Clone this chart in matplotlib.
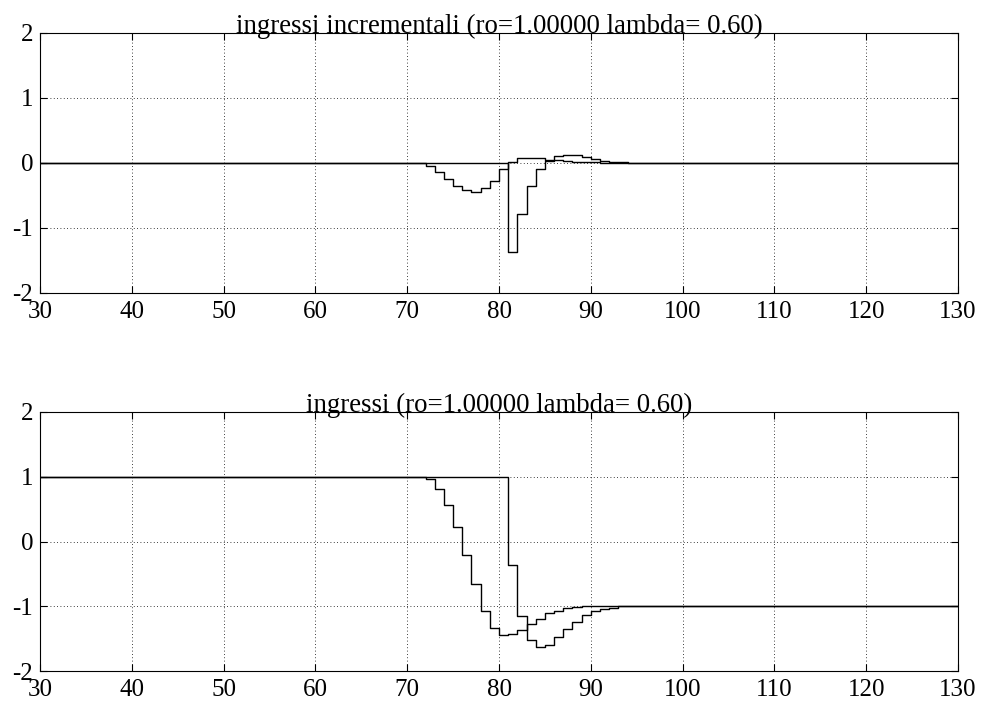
import numpy as np
import matplotlib
matplotlib.use("Agg")
import matplotlib.pyplot as plt

plt.rcParams['font.family'] = ['Liberation Serif', 'DejaVu Serif']
plt.rcParams['axes.unicode_minus'] = False

# time axis (integer samples)
t = np.arange(30, 131)

# incremental inputs: nonzero portions
du1_start = 72
du1_vals = [-0.04, -0.14, -0.25, -0.35, -0.42, -0.45, -0.39, -0.27, -0.10,
            0.02, 0.07, 0.08, 0.08, 0.05, 0.05, 0.035, 0.02, 0.015, 0.01, 0.005]
du2_start = 81
du2_vals = [-1.37, -0.78, -0.36, -0.10, 0.03, 0.11, 0.13, 0.12, 0.09, 0.06,
            0.03, 0.015, 0.01, 0.005]

# inputs: level 1 before, -1 after
u_init = 1.0
u_final = -1.0
u1_start = 72
u1_vals = [0.96, 0.81, 0.56, 0.22, -0.21, -0.66, -1.07, -1.34, -1.44, -1.43,
           -1.36, -1.28, -1.19, -1.11, -1.07, -1.03, -1.01, -1.0]
u2_start = 81
u2_vals = [-0.37, -1.15, -1.52, -1.63, -1.60, -1.48, -1.35, -1.24, -1.14,
           -1.08, -1.04, -1.02, -1.0]

xticks = [30, 40, 50, 60, 70, 80, 90, 100, 110, 120, 130]
yticks = [-2, -1, 0, 1, 2]


def build(start, vals, before, after):
    y = np.full(t.shape, after, dtype=float)
    y[t < start] = before
    for i, v in enumerate(vals):
        y[t == start + i] = v
    return y


du1 = build(du1_start, du1_vals, 0.0, 0.0)
du2 = build(du2_start, du2_vals, 0.0, 0.0)
u1 = build(u1_start, u1_vals, u_init, u_final)
u2 = build(u2_start, u2_vals, u_init, u_final)

fig = plt.figure(figsize=(9.9, 7.08), dpi=100)
W, H = 990, 708
ax1 = fig.add_axes([40 / W, 1 - 293 / H, 918 / W, 260 / H])
ax2 = fig.add_axes([40 / W, 1 - 671 / H, 918 / W, 259 / H])

for ax, a, b, title in [
    (ax1, du1, du2, 'ingressi incrementali (ro=1.00000 lambda= 0.60)'),
    (ax2, u1, u2, 'ingressi (ro=1.00000 lambda= 0.60)'),
]:
    ax.step(t, a, where='post', color='black', lw=1.0)
    ax.step(t, b, where='post', color='black', lw=1.0)
    ax.set_xlim(30, 130)
    ax.set_ylim(-2, 2)
    ax.set_xticks(xticks)
    ax.set_yticks(yticks)
    ax.grid(True, linestyle=(0, (1, 3)), color='black', lw=0.6)
    ax.tick_params(direction='in', top=True, right=True, length=5,
                   labelsize=18, width=0.8)
    ax.tick_params(axis='y', pad=5)
    ax.tick_params(axis='x', pad=6)
    ax.set_title(title, fontsize=19.3, pad=0)
    for s in ax.spines.values():
        s.set_linewidth(0.8)

fig.savefig('out.png', dpi=100)
